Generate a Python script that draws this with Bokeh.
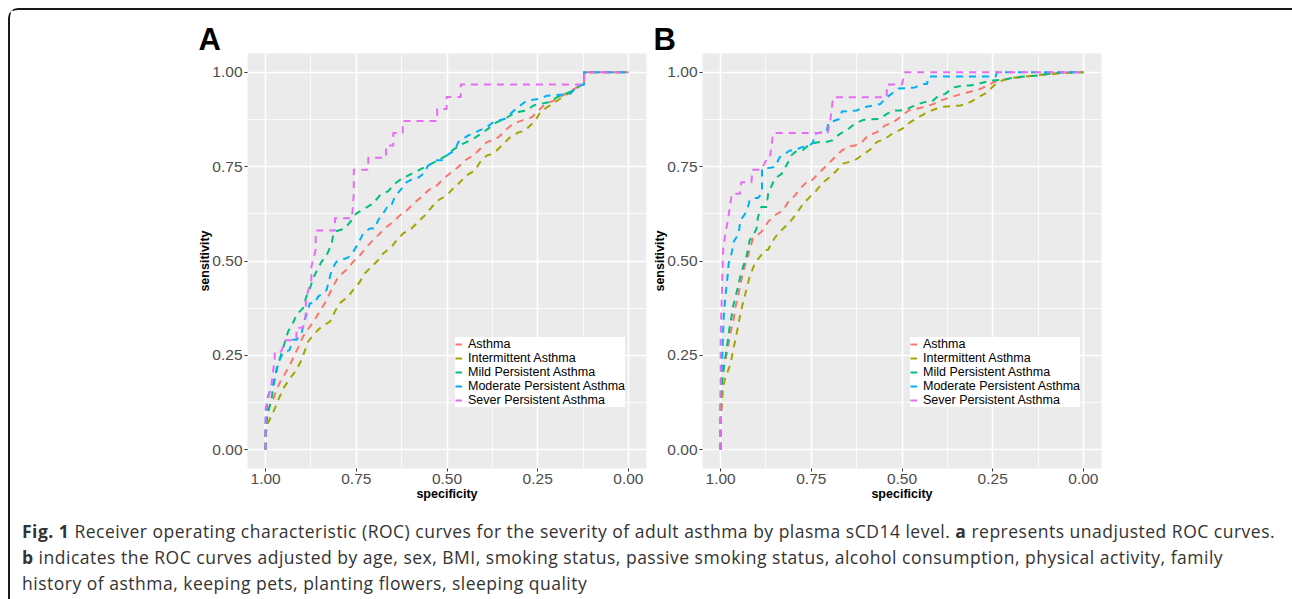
from bokeh.plotting import figure
from bokeh.models import (Range1d, FixedTicker, PrintfTickFormatter, Legend, LegendItem, Div)
from bokeh.layouts import row, column
from bokeh.embed import file_html
from bokeh.resources import INLINE

# ---------------- data: (specificity, sensitivity) ----------------
series_names = ["Asthma", "Intermittent Asthma", "Mild Persistent Asthma",
                "Moderate Persistent Asthma", "Sever Persistent Asthma"]
series_colors = ["#F8766D", "#A3A500", "#00BF7D", "#00B0F6", "#E76BF3"]
tick_values = [0.0, 0.25, 0.5, 0.75, 1.0]
minor_values = [0.125, 0.375, 0.625, 0.875]

A_asthma = [(1.0, 0.0), (1.0, 0.06), (0.994, 0.106), (0.98, 0.132), (0.97, 0.159), (0.957, 0.185),
            (0.943, 0.207), (0.929, 0.233), (0.911, 0.269), (0.897, 0.3), (0.878, 0.326), (0.86, 0.352),
            (0.837, 0.388), (0.814, 0.432), (0.8, 0.458), (0.773, 0.48), (0.759, 0.498), (0.74, 0.515),
            (0.722, 0.537), (0.704, 0.555), (0.685, 0.573), (0.667, 0.59), (0.648, 0.604), (0.63, 0.621),
            (0.611, 0.634), (0.593, 0.652), (0.57, 0.67), (0.552, 0.687), (0.528, 0.7), (0.51, 0.718),
            (0.487, 0.736), (0.469, 0.749), (0.45, 0.767), (0.427, 0.78), (0.409, 0.797), (0.39, 0.815),
            (0.381, 0.818), (0.358, 0.828), (0.335, 0.85), (0.317, 0.864), (0.294, 0.872), (0.266, 0.881),
            (0.248, 0.899), (0.229, 0.916), (0.206, 0.925), (0.183, 0.938), (0.156, 0.952), (0.133, 0.965),
            (0.122, 0.968), (0.122, 1.0), (0.0, 1.0)]
A_intermittent = [(1.0, 0.0), (1.0, 0.04), (0.994, 0.07), (0.98, 0.097), (0.961, 0.141), (0.948, 0.167),
                  (0.929, 0.194), (0.915, 0.211), (0.901, 0.238), (0.883, 0.286), (0.865, 0.308),
                  (0.846, 0.326), (0.823, 0.339), (0.809, 0.366), (0.796, 0.388), (0.773, 0.405),
                  (0.759, 0.423), (0.74, 0.445), (0.727, 0.467), (0.708, 0.485), (0.69, 0.502),
                  (0.676, 0.52), (0.653, 0.537), (0.639, 0.555), (0.621, 0.573), (0.598, 0.586),
                  (0.579, 0.604), (0.561, 0.621), (0.542, 0.643), (0.524, 0.661), (0.501, 0.674),
                  (0.483, 0.692), (0.464, 0.709), (0.446, 0.727), (0.423, 0.74), (0.409, 0.762),
                  (0.39, 0.78), (0.381, 0.782), (0.363, 0.793), (0.344, 0.811), (0.326, 0.828),
                  (0.303, 0.841), (0.294, 0.843), (0.275, 0.855), (0.257, 0.872), (0.243, 0.894),
                  (0.225, 0.907), (0.202, 0.921), (0.183, 0.934), (0.16, 0.947), (0.133, 0.965),
                  (0.122, 0.968), (0.122, 1.0), (0.0, 1.0)]
A_mild = [(1.0, 0.0), (1.0, 0.05), (0.995, 0.09), (0.985, 0.13), (0.975, 0.185), (0.966, 0.225),
          (0.955, 0.26), (0.948, 0.282), (0.938, 0.313), (0.925, 0.335), (0.915, 0.357), (0.897, 0.375),
          (0.888, 0.405), (0.878, 0.427), (0.869, 0.454), (0.856, 0.48), (0.846, 0.498), (0.832, 0.515),
          (0.818, 0.546), (0.812, 0.577), (0.782, 0.586), (0.763, 0.608), (0.75, 0.626), (0.727, 0.639),
          (0.704, 0.652), (0.685, 0.674), (0.662, 0.685), (0.644, 0.705), (0.625, 0.718), (0.598, 0.731),
          (0.575, 0.742), (0.552, 0.753), (0.524, 0.767), (0.501, 0.78), (0.483, 0.795), (0.455, 0.811),
          (0.427, 0.824), (0.4, 0.841), (0.363, 0.868), (0.34, 0.877), (0.312, 0.894), (0.28, 0.899),
          (0.262, 0.912), (0.22, 0.921), (0.197, 0.934), (0.151, 0.952), (0.133, 0.965), (0.122, 0.968),
          (0.122, 1.0), (0.0, 1.0)]
A_moderate = [(1.0, 0.0), (1.0, 0.079), (0.994, 0.141), (0.98, 0.172), (0.966, 0.229), (0.952, 0.256),
              (0.934, 0.264), (0.925, 0.291), (0.915, 0.291), (0.901, 0.308), (0.892, 0.344),
              (0.878, 0.388), (0.865, 0.388), (0.856, 0.405), (0.832, 0.423), (0.818, 0.476),
              (0.805, 0.498), (0.773, 0.509), (0.759, 0.524), (0.745, 0.546), (0.731, 0.573),
              (0.713, 0.586), (0.699, 0.586), (0.69, 0.608), (0.676, 0.626), (0.662, 0.648),
              (0.653, 0.648), (0.644, 0.67), (0.625, 0.692), (0.611, 0.709), (0.588, 0.721),
              (0.579, 0.721), (0.565, 0.731), (0.552, 0.753), (0.528, 0.767), (0.515, 0.767),
              (0.501, 0.78), (0.478, 0.793), (0.469, 0.815), (0.441, 0.833), (0.39, 0.855),
              (0.372, 0.868), (0.34, 0.877), (0.321, 0.894), (0.298, 0.912), (0.28, 0.925),
              (0.243, 0.93), (0.225, 0.938), (0.16, 0.943), (0.146, 0.958), (0.133, 0.966),
              (0.122, 0.968), (0.122, 1.0), (0.0, 1.0)]
A_severe = [(1.0, 0.0), (1.0, 0.11), (0.985, 0.167), (0.975, 0.24), (0.975, 0.26), (0.957, 0.26),
            (0.945, 0.29), (0.915, 0.29), (0.915, 0.323), (0.897, 0.323), (0.889, 0.36), (0.889, 0.4),
            (0.874, 0.45), (0.874, 0.485), (0.862, 0.53), (0.862, 0.581), (0.809, 0.581), (0.809, 0.613),
            (0.762, 0.613), (0.757, 0.68), (0.757, 0.742), (0.717, 0.742), (0.717, 0.774), (0.668, 0.774),
            (0.668, 0.806), (0.648, 0.806), (0.648, 0.839), (0.622, 0.839), (0.622, 0.871), (0.527, 0.871),
            (0.527, 0.903), (0.501, 0.903), (0.501, 0.935), (0.462, 0.935), (0.462, 0.968),
            (0.122, 0.968), (0.122, 1.0), (0.0, 1.0)]

B_asthma = [(1.0, 0.0), (1.0, 0.1), (0.998, 0.15), (0.996, 0.185), (0.991, 0.22), (0.981, 0.264),
            (0.975, 0.3), (0.963, 0.352), (0.959, 0.379), (0.952, 0.405), (0.947, 0.432), (0.941, 0.458),
            (0.934, 0.485), (0.92, 0.529), (0.911, 0.56), (0.888, 0.577), (0.869, 0.604), (0.851, 0.621),
            (0.828, 0.634), (0.814, 0.656), (0.795, 0.674), (0.781, 0.692), (0.763, 0.709), (0.754, 0.709),
            (0.74, 0.722), (0.722, 0.74), (0.703, 0.758), (0.685, 0.775), (0.666, 0.793), (0.643, 0.804),
            (0.63, 0.806), (0.611, 0.815), (0.593, 0.833), (0.57, 0.841), (0.547, 0.859), (0.524, 0.868),
            (0.505, 0.881), (0.482, 0.899), (0.445, 0.907), (0.413, 0.916), (0.395, 0.925), (0.367, 0.934),
            (0.335, 0.943), (0.307, 0.95), (0.284, 0.956), (0.265, 0.965), (0.247, 0.974), (0.224, 0.98),
            (0.19, 0.985), (0.15, 0.99), (0.1, 0.995), (0.05, 1.0), (0.0, 1.0)]
B_intermittent = [(1.0, 0.0), (1.0, 0.07), (0.998, 0.1), (0.996, 0.123), (0.994, 0.159), (0.989, 0.185),
                  (0.972, 0.229), (0.966, 0.264), (0.959, 0.291), (0.954, 0.317), (0.947, 0.352),
                  (0.941, 0.379), (0.934, 0.405), (0.927, 0.432), (0.92, 0.458), (0.906, 0.493),
                  (0.892, 0.511), (0.878, 0.529), (0.869, 0.53), (0.855, 0.555), (0.842, 0.573),
                  (0.823, 0.59), (0.805, 0.608), (0.791, 0.626), (0.772, 0.652), (0.754, 0.67),
                  (0.736, 0.687), (0.717, 0.709), (0.699, 0.722), (0.68, 0.74), (0.662, 0.758),
                  (0.63, 0.767), (0.611, 0.78), (0.588, 0.795), (0.57, 0.815), (0.547, 0.824),
                  (0.524, 0.839), (0.5, 0.85), (0.477, 0.868), (0.455, 0.881), (0.431, 0.894),
                  (0.408, 0.903), (0.385, 0.909), (0.339, 0.912), (0.312, 0.921), (0.289, 0.934),
                  (0.265, 0.947), (0.247, 0.965), (0.224, 0.978), (0.2, 0.985), (0.15, 0.99),
                  (0.1, 0.995), (0.05, 0.998), (0.0, 1.0)]
B_mild = [(1.0, 0.0), (1.0, 0.12), (0.996, 0.18), (0.991, 0.22), (0.984, 0.264), (0.98, 0.291),
          (0.975, 0.326), (0.97, 0.352), (0.966, 0.379), (0.959, 0.405), (0.952, 0.432), (0.945, 0.463),
          (0.938, 0.485), (0.929, 0.511), (0.925, 0.529), (0.92, 0.555), (0.911, 0.566), (0.901, 0.586),
          (0.897, 0.617), (0.888, 0.643), (0.874, 0.643), (0.869, 0.678), (0.851, 0.718), (0.832, 0.731),
          (0.814, 0.762), (0.805, 0.78), (0.795, 0.789), (0.772, 0.795), (0.754, 0.81), (0.731, 0.815),
          (0.712, 0.815), (0.694, 0.819), (0.671, 0.837), (0.648, 0.85), (0.63, 0.864), (0.607, 0.874),
          (0.56, 0.877), (0.542, 0.89), (0.519, 0.899), (0.505, 0.899), (0.487, 0.901), (0.477, 0.907),
          (0.455, 0.916), (0.431, 0.923), (0.417, 0.923), (0.404, 0.934), (0.381, 0.943), (0.358, 0.96),
          (0.33, 0.965), (0.312, 0.965), (0.293, 0.969), (0.256, 0.978), (0.224, 0.98), (0.196, 0.985),
          (0.164, 0.989), (0.132, 0.991), (0.118, 0.993), (0.095, 0.996), (0.054, 1.0), (0.0, 1.0)]
B_moderate = [(1.0, 0.0), (1.0, 0.15), (0.998, 0.2), (0.996, 0.229), (0.993, 0.317), (0.991, 0.361),
              (0.987, 0.405), (0.981, 0.458), (0.978, 0.493), (0.97, 0.52), (0.964, 0.551), (0.95, 0.573),
              (0.946, 0.608), (0.936, 0.62), (0.927, 0.634), (0.92, 0.661), (0.908, 0.667), (0.897, 0.667),
              (0.886, 0.68), (0.886, 0.744), (0.851, 0.749), (0.837, 0.775), (0.809, 0.793), (0.795, 0.793),
              (0.781, 0.8), (0.754, 0.806), (0.745, 0.815), (0.74, 0.837), (0.722, 0.841), (0.708, 0.841),
              (0.703, 0.866), (0.671, 0.877), (0.666, 0.896), (0.625, 0.899), (0.607, 0.907), (0.56, 0.916),
              (0.547, 0.93), (0.51, 0.957), (0.464, 0.96), (0.445, 0.969), (0.431, 0.969), (0.427, 0.989),
              (0.242, 0.989), (0.238, 1.0), (0.0, 1.0)]
B_severe = [(1.0, 0.0), (1.0, 0.3), (0.998, 0.37), (0.996, 0.44), (0.993, 0.53), (0.987, 0.573),
            (0.98, 0.608), (0.975, 0.64), (0.969, 0.678), (0.947, 0.678), (0.943, 0.709), (0.915, 0.709),
            (0.913, 0.742), (0.888, 0.742), (0.87, 0.775), (0.864, 0.775), (0.855, 0.839), (0.705, 0.839),
            (0.698, 0.87), (0.69, 0.934), (0.542, 0.934), (0.542, 0.968), (0.5, 0.968), (0.493, 1.0),
            (0.0, 1.0)]

panel_A = [A_asthma, A_intermittent, A_mild, A_moderate, A_severe]
panel_B = [B_asthma, B_intermittent, B_mild, B_moderate, B_severe]

caption_html = (
    "<b>Fig. 1</b> Receiver operating characteristic (ROC) curves for the severity of adult asthma by "
    "plasma sCD14 level. <b>a</b> represents unadjusted ROC curves.<br>"
    "<b>b</b> indicates the ROC curves adjusted by age, sex, BMI, smoking status, passive smoking status, "
    "alcohol consumption, physical activity, family<br>"
    "history of asthma, keeping pets, planting flowers, sleeping quality"
)

FONT = "Liberation Sans"


def make_panel(curves, letter, width, left):
    p = figure(width=width, height=503, output_backend="svg", toolbar_location=None,
               x_range=Range1d(1.05, -0.05), y_range=Range1d(-0.05, 1.05),
               min_border_left=left, min_border_right=4, min_border_top=43, min_border_bottom=45,
               background_fill_color="#EBEBEB", border_fill_color="white",
               x_axis_label="specificity", y_axis_label="sensitivity")
    p.outline_line_color = None
    p.title.text = letter
    p.title.text_font = FONT
    p.title.text_font_size = "31px"
    p.title.text_font_style = "bold"
    p.title.text_color = "black"
    p.title.align = "left"
    p.title.offset = -49
    p.title.standoff = -6
    for ax in (p.xaxis[0], p.yaxis[0]):
        ax.ticker = FixedTicker(ticks=tick_values, minor_ticks=minor_values)
        ax.formatter = PrintfTickFormatter(format="%.2f")
        ax.axis_line_color = None
        ax.major_tick_in = 0
        ax.major_tick_out = 3
        ax.major_tick_line_color = "#333333"
        ax.minor_tick_in = 0
        ax.minor_tick_out = 0
        ax.major_label_text_font = FONT
        ax.major_label_text_font_size = "15.5px"
        ax.major_label_text_color = "#4D4D4D"
        ax.major_label_standoff = 2
        ax.axis_label_text_font = FONT
        ax.axis_label_text_font_size = "12.5px"
        ax.axis_label_text_font_style = "bold"
        ax.axis_label_text_color = "black"
    p.xaxis[0].axis_label_standoff = 0
    p.yaxis[0].axis_label_standoff = -3
    for g in (p.xgrid[0], p.ygrid[0]):
        g.grid_line_color = "white"
        g.grid_line_width = 1.6
        g.minor_grid_line_color = "white"
        g.minor_grid_line_width = 0.8

    items = []
    for pts, name, col in zip(curves, series_names, series_colors):
        xs = [a for a, b in pts]
        ys = [b for a, b in pts]
        r = p.line(xs, ys, line_color=col, line_width=2, line_dash="7 6", line_join="round")
        items.append(LegendItem(label=name, renderers=[r]))

    leg = Legend(items=items, location=(208, 61), padding=6, spacing=-1, margin=0,
                 label_height=12, glyph_height=12, glyph_width=7, label_standoff=6,
                 label_text_font=FONT, label_text_font_size="12.5px", label_text_color="black",
                 border_line_color=None, background_fill_color="white", background_fill_alpha=1.0)
    p.add_layout(leg, "center")
    return p


pA = make_panel(panel_A, "A", 640, 237)
pB = make_panel(panel_B, "B", 455, 52)

cap = Div(text=('<div style="font-family:\'Open Sans\'; font-size:17.5px; letter-spacing:0.5px; '
                'line-height:26px; color:#333333; padding-left:7px; white-space:nowrap;">'
                + caption_html + '</div>'),
          width=1279, height=84)

layout = column(row(pA, pB), cap, margin=(8, 0, 0, 8),
                styles={"border-top": "2px solid #1a1a1a", "border-left": "2px solid #1a1a1a",
                        "border-right": "2px solid #1a1a1a",
                        "border-top-left-radius": "10px", "border-top-right-radius": "10px"})

open("out.html", "w").write(file_html(layout, INLINE))
